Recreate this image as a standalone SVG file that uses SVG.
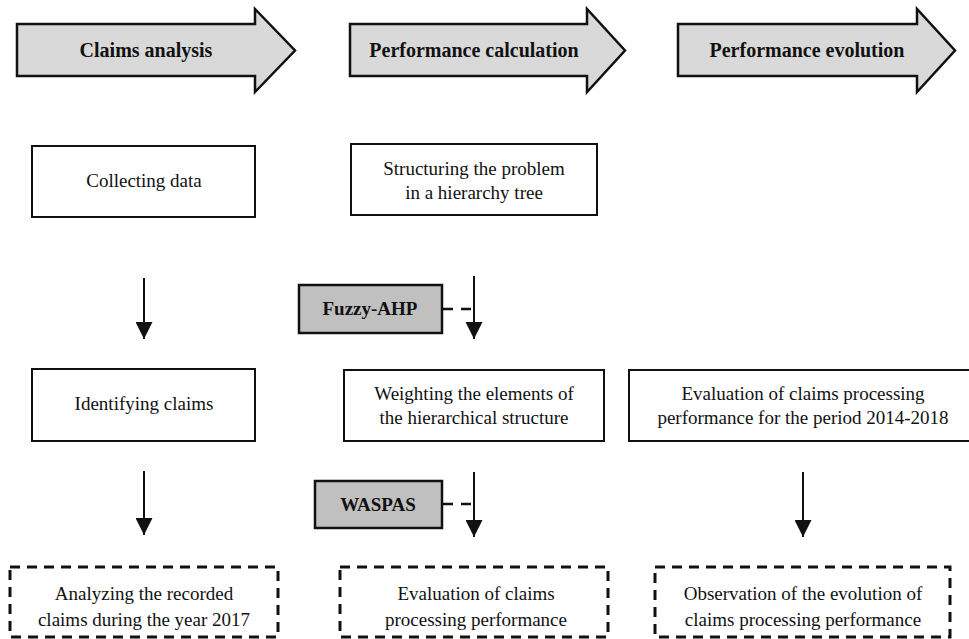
<svg xmlns="http://www.w3.org/2000/svg" width="969" height="639" viewBox="0 0 969 639">
<style>
  text{font-family:'Liberation Serif','Times New Roman','DejaVu Serif',serif;font-size:19px;fill:#111;text-anchor:middle}
  .b{font-weight:bold}
  .h{font-size:20px}
  .phase{fill:#d9d9d9;stroke:#111;stroke-width:2.5;stroke-linejoin:miter}
  .box{fill:#fff;stroke:#111;stroke-width:2}
  .tool{fill:#c0c0c0;stroke:#111;stroke-width:2.5}
  .res{fill:#fff;stroke:#111;stroke-width:3;stroke-dasharray:10 7}
  .ln{stroke:#111;stroke-width:2;fill:none}
  .dl{stroke:#111;stroke-width:2.5;fill:none;stroke-dasharray:10 8}
</style>
<defs>
  <marker id="ah" markerWidth="17" markerHeight="17" refX="17" refY="8.5" viewBox="0 0 17 17" markerUnits="userSpaceOnUse" orient="auto">
    <path d="M0 0 L17 8.5 L0 17 Z" fill="#111"/>
  </marker>
</defs>
<rect width="969" height="639" fill="#fff"/>

<g font-family="Liberation Serif, Times New Roman, serif">
<g id="phase-claims">
  <path class="phase" d="M17 24 H255 V9 L295 50.5 L255 92 V76 H17 Z"/>
  <text class="b h" x="146" y="57">Claims analysis</text>
</g>
<g id="phase-calc">
  <path class="phase" d="M350 24 H587 V9 L625 50.5 L587 92 V76 H350 Z"/>
  <text class="b h" x="474" y="57">Performance calculation</text>
</g>
<g id="phase-evol">
  <path class="phase" d="M678 24 H917 V9 L955 50.5 L917 92 V76 H678 Z"/>
  <text class="b h" x="807" y="57">Performance evolution</text>
</g>

<g id="collecting">
  <rect class="box" x="32" y="146" width="223" height="71"/>
  <text x="144" y="187">Collecting data</text>
</g>
<g id="structuring">
  <rect class="box" x="351" y="144" width="246" height="71"/>
  <text x="474" y="175">Structuring the problem</text>
  <text x="474" y="199">in a hierarchy tree</text>
</g>
<g id="fuzzy">
  <rect class="tool" x="299" y="285" width="143" height="48"/>
  <text class="b" x="370" y="315">Fuzzy-AHP</text>
</g>
<g id="identifying">
  <rect class="box" x="32" y="369" width="223" height="72"/>
  <text x="144" y="410">Identifying claims</text>
</g>
<g id="weighting">
  <rect class="box" x="344" y="370" width="260" height="71"/>
  <text x="474" y="400">Weighting the elements of</text>
  <text x="474" y="424">the hierarchical structure</text>
</g>
<g id="evaluation-period">
  <rect class="box" x="629" y="370" width="348" height="71"/>
  <text x="803" y="400">Evaluation of claims processing</text>
  <text x="803" y="424">performance for the period 2014-2018</text>
</g>
<g id="waspas">
  <rect class="tool" x="315" y="481" width="127" height="47"/>
  <text class="b" x="378" y="511">WASPAS</text>
</g>
<g id="analyzing">
  <rect class="res" x="10" y="567" width="268" height="70"/>
  <text x="144" y="600">Analyzing the recorded</text>
  <text x="144" y="626">claims during the year 2017</text>
</g>
<g id="evaluation">
  <rect class="res" x="340" y="567" width="268" height="70"/>
  <text x="476" y="600">Evaluation of claims</text>
  <text x="476" y="626">processing performance</text>
</g>
<g id="observation">
  <rect class="res" x="655" y="567" width="295" height="70"/>
  <text x="803" y="600">Observation of the evolution of</text>
  <text x="803" y="626">claims processing performance</text>
</g>
</g>

<g id="connectors">
  <line class="ln" x1="144" y1="278" x2="144" y2="339" marker-end="url(#ah)"/>
  <line class="ln" x1="474" y1="276" x2="474" y2="339" marker-end="url(#ah)"/>
  <line class="dl" x1="443" y1="309" x2="474" y2="309"/>
  <line class="ln" x1="144" y1="471" x2="144" y2="535" marker-end="url(#ah)"/>
  <line class="ln" x1="474" y1="472" x2="474" y2="537" marker-end="url(#ah)"/>
  <line class="dl" x1="443" y1="504" x2="474" y2="504"/>
  <line class="ln" x1="803" y1="472" x2="803" y2="537" marker-end="url(#ah)"/>
</g>
</svg>
